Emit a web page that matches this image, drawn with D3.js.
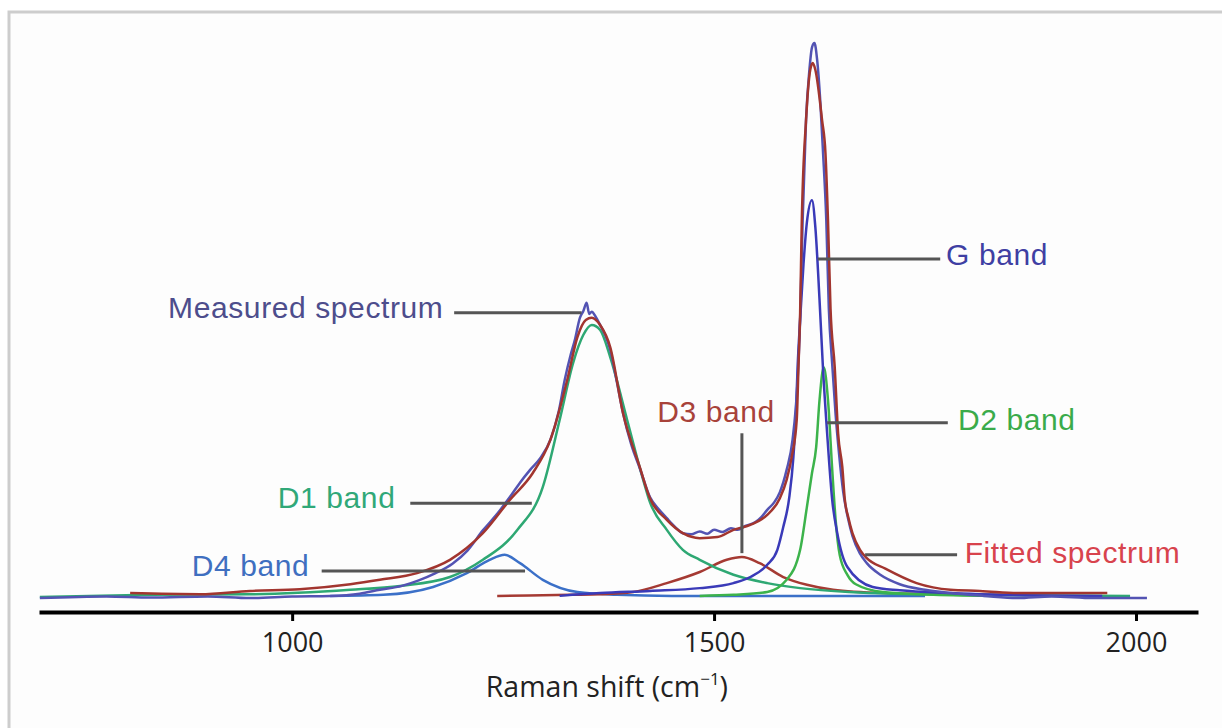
<!DOCTYPE html>
<html>
<head>
<meta charset="utf-8">
<script src="https://cdn.jsdelivr.net/npm/d3@7"></script>
<style>
  body { margin: 0; background: #ffffff; }
  svg { display: block; }
</style>
</head>
<body>
<script>
// Raman spectrum with fitted bands ([shift cm-1, intensity a.u.])
const measured = [[701,-0.2],[780,0.1],[832,-0.1],[900,0.1],[950,-0.2],[1000,0.1],[1045,0.2],[1080,0.6],[1104,1.3],[1130,2.0],[1150,3.0],[1170,4.3],[1190,6.0],[1208,8.4],[1226,12.0],[1242,14.8],[1258,18.0],[1270,20.6],[1282,22.9],[1294,25.0],[1306,28.3],[1316,33.5],[1323,39.1],[1330,43.6],[1335,46.3],[1341,50.3],[1345,51.5],[1349,53.0],[1352,51.0],[1355,51.4],[1360,50.4],[1365,49.0],[1371,47.2],[1377,44.5],[1385,38.6],[1392,33.2],[1402,27.4],[1412,23.2],[1424,18.0],[1434,15.9],[1444,14.2],[1454,12.6],[1463,11.5],[1473,11.3],[1483,11.8],[1492,11.4],[1500,12.1],[1510,11.7],[1520,12.4],[1528,12.1],[1537,12.8],[1549,13.5],[1556,14.4],[1563,15.7],[1571,17.0],[1578,18.9],[1586,22.9],[1593,28.3],[1599,39.1],[1602,50],[1605,68],[1609,86],[1613,95],[1616,99],[1619,99.8],[1622,97],[1626,89],[1629,80.5],[1633,67.9],[1636,52],[1640,42],[1644,33],[1648,26],[1653,19],[1659,14],[1664,11],[1673,7.8],[1681,6.1],[1697,4.0],[1720,2.3],[1750,1.3],[1780,0.7],[1820,0.2],[1859,-0.2],[1900,0.1],[1950,-0.2],[2013,-0.2]];

const fitted = [[808,0.7],[891,0.5],[950,1.1],[1009,1.4],[1069,2.3],[1104,3.1],[1148,4.3],[1187,6.7],[1226,11.5],[1258,17.5],[1285,22.3],[1306,28.3],[1326,39.1],[1338,46.8],[1348,49.9],[1355,50.3],[1365,49.0],[1377,45.0],[1392,33.2],[1412,23.4],[1424,17.8],[1444,13.9],[1463,11.5],[1483,10.6],[1504,10.8],[1523,12.1],[1543,13.0],[1563,14.8],[1578,17.8],[1586,21.1],[1592,25.2],[1598,32],[1600,41.4],[1602,51.2],[1604,67.9],[1609,85.9],[1614,95],[1617,96.2],[1620,95],[1628,85.9],[1632,80],[1635,67.9],[1638,52],[1643,41.4],[1647,29.5],[1652,23.4],[1655,17.5],[1659,14.4],[1664,11.5],[1673,8.5],[1681,7.0],[1703,5.1],[1740,2.5],[1780,1.3],[1815,1.1],[1866,0.7],[1966,0.7]];

const d1Band = [[701,0],[832,0.4],[950,0.5],[1069,1.3],[1128,2.0],[1187,3.6],[1226,6.7],[1267,12.1],[1297,19.8],[1317,31.9],[1333,42.2],[1345,47.2],[1355,49.0],[1365,48.1],[1377,43.2],[1397,31.9],[1416,21.1],[1424,17.1],[1444,12.1],[1463,8.5],[1483,6.7],[1523,4.0],[1563,2.5],[1602,1.6],[1660,0.9],[1780,0.4],[1993,0.2]];

const d2Band = [[1483,0.2],[1523,0.4],[1563,0.9],[1586,3.1],[1602,8.5],[1610,16.2],[1616,22.3],[1621,27.0],[1625,35.5],[1630,41.4],[1635,35.5],[1640,23.0],[1644,14],[1649,7.5],[1658,4.0],[1668,2.3],[1700,0.9],[1760,0.4],[1840,0.2]];

const gBand = [[1317,0.2],[1365,0.7],[1424,1.1],[1483,1.6],[1523,2.5],[1543,3.6],[1563,5.8],[1575,8.5],[1582,12.6],[1589,17.8],[1594,25.2],[1597,33],[1599,41.4],[1602,50],[1606,60],[1610,67.5],[1616,71.5],[1620,66.7],[1625,53.5],[1629,41.4],[1634,29.5],[1640,17.5],[1646,11.5],[1658,5.4],[1688,1.8],[1720,1.2],[1780,0.7],[1860,0.3],[1960,0.2]];

const d3Band = [[1243,0.2],[1330,0.4],[1365,0.5],[1404,0.9],[1444,2.5],[1483,4.5],[1515,6.7],[1533,7.2],[1554,6.1],[1582,3.6],[1610,2.2],[1641,1.3],[1700,0.7],[1780,0.5],[1860,0.4]];

const d4Band = [[1045,0.2],[1108,0.4],[1167,1.8],[1207,4.3],[1234,6.7],[1252,7.6],[1270,6.1],[1297,3.1],[1338,0.9],[1385,0.4],[1450,0.2],[1750,0.2]];

const xTicks = [1000, 1500, 2000];

// callouts: label anchor and leader line, in data units
const callouts = [
  { text: 'Measured spectrum', color: '#4d4d8c', anchor: 'start', at: [853, 50.3], line: [[1192, 51.2], [1343, 51.2]] },
  { text: 'G band', color: '#3f3fa3', anchor: 'start', at: [1775, 59.8], line: [[1623, 60.9], [1768, 60.9]] },
  { text: 'D3 band', color: '#a8423a', anchor: 'end', at: [1572, 31.5], line: [[1533, 29.5], [1533, 7.9]] },
  { text: 'D2 band', color: '#3aab4a', anchor: 'start', at: [1789, 30.1], line: [[1634, 31.4], [1777, 31.4]] },
  { text: 'D1 band', color: '#30a878', anchor: 'start', at: [983, 16.0], line: [[1140, 16.9], [1284, 16.9]] },
  { text: 'D4 band', color: '#3f6fc0', anchor: 'start', at: [881, 3.8], line: [[1035, 4.7], [1276, 4.7]] },
  { text: 'Fitted spectrum', color: '#d8434d', anchor: 'start', at: [1797, 6.1], line: [[1679, 7.6], [1788, 7.6]] }
];

const W = 1222, H = 728;

const svg = d3.select('body').append('svg')
  .attr('width', W)
  .attr('height', H);

// light grey frame, open to the right and bottom
svg.append('rect')
  .attr('x', 9).attr('y', 12)
  .attr('width', 1300).attr('height', 800)
  .attr('fill', '#fdfdfd')
  .attr('stroke', '#cdcdcd')
  .attr('stroke-width', 3);

const x = d3.scaleLinear().domain([700, 2073.5]).range([39, 1198]);
const y = d3.scaleLinear().domain([0, 100]).range([597, 42]);

const line = d3.line()
  .x(d => x(d[0]))
  .y(d => y(d[1]))
  .curve(d3.curveMonotoneX);

const series = [
  { data: d4Band, color: '#3b70c8' },
  { data: d3Band, color: '#a53a33' },
  { data: d1Band, color: '#2ea873' },
  { data: d2Band, color: '#3cb34b' },
  { data: gBand, color: '#3a3ab8' },
  { data: measured, color: '#5353b3' },
  { data: fitted, color: '#a2352f' }
];

svg.selectAll('path.spec')
  .data(series)
  .enter().append('path')
  .attr('class', 'spec')
  .attr('d', d => line(d.data))
  .attr('fill', 'none')
  .attr('stroke', d => d.color)
  .attr('stroke-width', 2.5)
  .attr('stroke-linejoin', 'round');

// x axis
const axis = svg.append('g')
  .attr('transform', `translate(0,${612})`)
  .call(d3.axisBottom(x).tickValues(xTicks).tickFormat(d3.format('d'))
    .tickSize(9).tickSizeOuter(0).tickPadding(12));

axis.select('.domain').attr('stroke', '#000').attr('stroke-width', 4);
axis.selectAll('.tick line').attr('stroke', '#000').attr('stroke-width', 3);
axis.selectAll('.tick text')
  .attr('fill', '#222')
  .style('font-family', '"Open Sans", sans-serif')
  .style('font-size', '27px');

const title = svg.append('text')
  .attr('x', x(1373))
  .attr('y', 697)
  .attr('text-anchor', 'middle')
  .attr('fill', '#222')
  .style('font-family', '"Open Sans", sans-serif')
  .style('font-size', '28.5px')
  .text('Raman shift (cm');
title.append('tspan').attr('dy', -12).style('font-size', '17px').text('\u22121');
title.append('tspan').attr('dy', 12).text(')');

// callout leaders and labels
svg.selectAll('path.leader')
  .data(callouts)
  .enter().append('path')
  .attr('class', 'leader')
  .attr('d', d => d3.line().x(p => x(p[0])).y(p => y(p[1]))(d.line))
  .attr('stroke', '#555')
  .attr('stroke-width', 3)
  .attr('fill', 'none');

svg.selectAll('text.callout')
  .data(callouts)
  .enter().append('text')
  .attr('class', 'callout')
  .attr('x', d => x(d.at[0]))
  .attr('y', d => y(d.at[1]))
  .attr('text-anchor', d => d.anchor)
  .attr('fill', d => d.color)
  .style('font-family', '"Liberation Sans", Arial, sans-serif')
  .style('font-size', '30px')
  .style('letter-spacing', '0.6px')
  .text(d => d.text);
</script>
</body>
</html>
